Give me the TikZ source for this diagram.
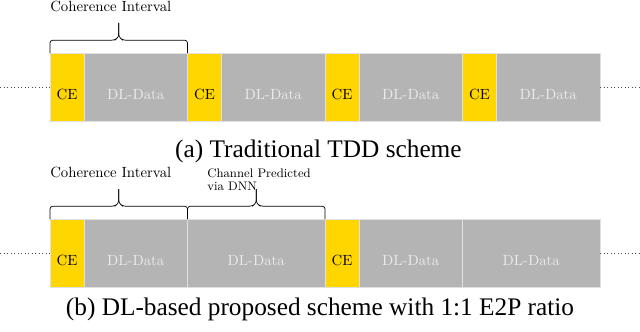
\documentclass[tikz,border=0pt]{standalone}
\usepackage{fontspec}
\newfontfamily\capfont{Liberation Serif}
\usepackage{tikz}
\usetikzlibrary{positioning,calc}
\definecolor{cegold}{RGB}{255,214,0}
\definecolor{dlgray}{RGB}{180,180,180}
\tikzset{
blk/.style={draw=black!12,line width=0.6pt,minimum height=1.7cm,inner sep=0pt,outer sep=0pt,
text height=0.6cm,text depth=0pt,font=\fontsize{10.5}{12.6}\selectfont},
ceblk/.style={blk,fill=cegold,minimum width=0.85cm,text=black},
dlblk/.style={blk,fill=dlgray,minimum width=2.5875cm,text=black!8},
wideblk/.style={minimum width=3.4375cm},
brc/.style={draw=black,line width=0.5pt,rounded corners=2pt},
dots/.style={dotted,black!70,line width=0.5pt},
lbl/.style={font=\fontsize{10.5}{12.6}\selectfont,inner sep=0pt},
smalllbl/.style={font=\fontsize{8.8}{9.6}\selectfont,inner sep=0pt,align=left},
captxt/.style={font=\capfont\fontsize{18}{21}\selectfont,inner sep=0pt}
}

\begin{document}
\begin{tikzpicture}
\useasboundingbox (0,0) rectangle (16,8.275);
% traditional TDD frame
\foreach \i in {0,...,3}{
  \node[ceblk,anchor=west] (ce\i) at ({1.25+3.4375*\i},6.1) {CE};
  \node[dlblk,right=0pt of ce\i] (dl\i) {DL-Data};
}
\coordinate (tl) at (0,6.1);
\coordinate (tr) at (16,6.1);
\draw[dots] (tl) -- (ce0.west);
\draw[dots] (dl3.east) -- (tr);
\node[captxt,anchor=base] (capa) at (7.96,4.33) {(a) Traditional TDD scheme};

% DL-based frame
\node[ceblk,anchor=west] (bce0) at (1.25,1.95) {CE};
\node[dlblk,right=0pt of bce0] (bdl0) {DL-Data};
\node[dlblk,wideblk,right=0pt of bdl0] (bpr0) {DL-Data};
\node[ceblk,right=0pt of bpr0] (bce1) {CE};
\node[dlblk,right=0pt of bce1] (bdl1) {DL-Data};
\node[dlblk,wideblk,right=0pt of bdl1] (bpr1) {DL-Data};
\coordinate (bl) at (0,1.95);
\coordinate (br) at (16,1.95);
\draw[dots] (bl) -- (bce0.west);
\draw[dots] (bpr1.east) -- (br);
\node[captxt,anchor=base] (capb) at (8,0.4) {(b) DL-based proposed scheme with 1:1 E2P ratio};

% braces
\foreach \a/\b in {ce0/dl0,bce0/bdl0,bpr0/bpr0}{
  \coordinate (m) at ($(\a.north west)!0.5!(\b.north east)$);
  \draw[brc] (\a.north west) -- ++(0,0.32) -- ($(m)+(-0.1,0.32)$) -- ++(0.1,0.08) -- ++(0,0.35);
  \draw[brc] (\b.north east) -- ++(0,0.32) -- ($(m)+(0.1,0.32)$) -- ++(-0.1,0.08) -- ++(0,0.35);
}
\node[lbl,anchor=base west] (ci0) at ($(ce0.north west)+(0,1.045)$) {Coherence Interval};
\node[lbl,anchor=base west] (ci1) at ($(bce0.north west)+(0,1.03)$) {Coherence Interval};
\node[smalllbl,anchor=base west] (cp) at ($(bpr0.north west)+(0.49,0.71)$) {Channel Predicted\\via DNN};
\end{tikzpicture}
\end{document}
